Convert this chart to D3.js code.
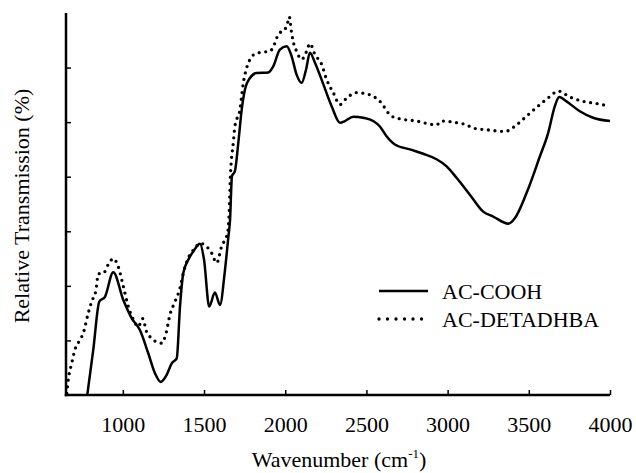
<!DOCTYPE html>
<html>
<head>
<meta charset="utf-8">
<script src="https://cdn.jsdelivr.net/npm/d3@7"></script>
<style>
  html, body { margin: 0; padding: 0; background: #fff; }
  svg { display: block; }
  text { font-family: "Liberation Serif", "Times New Roman", serif; fill: #000; }
</style>
</head>
<body>
<svg id="chart" width="636" height="473"></svg>
<script>
// FTIR spectra: relative transmission vs wavenumber
const xTicks = [1000, 1500, 2000, 2500, 3000, 3500, 4000];
const yTicks = [10, 20, 30, 40, 50, 60];

const seriesNames = ["AC-COOH", "AC-DETADHBA"];

const coohWavenumber = [781, 818, 855, 890, 941, 1003, 1054, 1105, 1157, 1198, 1233, 1270, 1301, 1332,
  1352, 1372, 1403, 1434, 1475, 1500, 1532, 1567, 1598, 1629, 1650, 1660, 1672, 1690, 1711, 1732,
  1752, 1783, 1824, 1896, 1926, 1967, 2009, 2039, 2070, 2101, 2128, 2152, 2183, 2224, 2286, 2337,
  2368, 2419, 2480, 2542, 2583, 2624, 2675, 2768, 2850, 2932, 2994, 3055, 3137, 3219, 3281, 3373,
  3414, 3486, 3568, 3619, 3660, 3687, 3732, 3814, 3896, 4000];
const coohTransmission = [0, 8.3, 17.1, 18.0, 22.5, 17.4, 14.1, 11.9, 7.6, 4.0, 2.4, 3.7, 5.8, 6.7,
  16.2, 22.3, 24.8, 26.3, 27.7, 24.8, 16.2, 18.8, 16.5, 22.9, 29.0, 32.0, 40.1, 41.0, 46.2, 52.3,
  56.0, 58.1, 59.0, 59.1, 60.2, 63.3, 63.9, 62.1, 58.7, 57.2, 59.6, 62.7, 60.9, 57.8, 52.9, 49.9,
  50.2, 51.0, 50.8, 50.2, 49.2, 47.4, 45.9, 45.0, 44.2, 43.2, 41.9, 39.8, 36.7, 33.6, 32.7, 31.4,
  32.4, 37.0, 43.7, 48.0, 52.9, 54.6, 53.8, 52.0, 50.8, 50.2];

const detaWavenumber = [655, 664, 685, 705, 736, 756, 787, 808, 835, 849, 880, 910, 941, 972, 1003,
  1034, 1064, 1095, 1122, 1146, 1177, 1218, 1239, 1266, 1290, 1321, 1352, 1372, 1403, 1444, 1475,
  1516, 1547, 1578, 1608, 1645, 1655, 1662, 1680, 1690, 1721, 1742, 1762, 1783, 1814, 1855, 1906,
  1937, 1957, 1998, 2012, 2025, 2039, 2049, 2070, 2101, 2132, 2152, 2183, 2224, 2255, 2296, 2337,
  2378, 2440, 2522, 2583, 2655, 2727, 2809, 2881, 2932, 2963, 3055, 3117, 3157, 3240, 3353, 3425,
  3486, 3568, 3630, 3681, 3753, 3835, 3917, 4000];
const detaTransmission = [0.3, 2.8, 5.8, 8.3, 10.1, 11.3, 15.0, 17.1, 19.3, 22.2, 22.3, 23.9, 25.0, 23.5, 19.9,
  16.2, 13.9, 12.5, 14.0, 11.6, 10.4, 9.6, 9.5, 11.3, 14.7, 17.1, 19.6, 22.3, 25.1, 26.9, 27.8,
  27.2, 26.0, 24.2, 27.2, 29.7, 33.5, 39.8, 46.2, 49.2, 52.3, 57.2, 59.9, 61.5, 62.5, 62.8, 63.0,
  64.5, 66.1, 67.0, 67.9, 69.3, 66.4, 64.8, 63.0, 61.5, 63.0, 64.4, 62.4, 60.6, 57.8, 55.4, 53.2,
  54.4, 55.4, 55.0, 53.8, 51.1, 50.5, 50.2, 49.7, 49.5, 50.2, 49.9, 49.5, 48.9, 48.6, 48.3, 49.5,
  51.1, 53.2, 54.7, 55.7, 54.6, 53.8, 53.4, 52.9];

const svg = d3.select("#chart");
const plotLeft = 66, plotRight = 610, plotTop = 13, plotBottom = 395;
const serif = "Liberation Serif, Times New Roman, serif";

const x = d3.scaleLinear().domain([650, 4000]).range([plotLeft, plotRight]);
const y = d3.scaleLinear().domain([0, 70]).range([plotBottom, plotTop]);

svg.append("defs").append("clipPath").attr("id", "plot")
  .append("rect").attr("x", plotLeft).attr("y", plotTop - 5)
  .attr("width", plotRight - plotLeft + 2).attr("height", plotBottom - plotTop + 5);

const line = d3.line().x(d => x(d[0])).y(d => y(d[1])).curve(d3.curveMonotoneX);

const cooh = coohWavenumber.map((w, i) => [w, coohTransmission[i]]);
const deta = detaWavenumber.map((w, i) => [w, detaTransmission[i]]);

const g = svg.append("g").attr("clip-path", "url(#plot)");
g.append("path").datum(deta).attr("d", line)
  .attr("fill", "none").attr("stroke", "#000").attr("stroke-width", 3.3)
  .attr("stroke-linecap", "round").attr("stroke-dasharray", "0 6.6");
g.append("path").datum(cooh).attr("d", line)
  .attr("fill", "none").attr("stroke", "#000").attr("stroke-width", 2.5)
  .attr("stroke-linejoin", "round");

// x axis: ticks point inward (up), labels below
const xAxis = svg.append("g").attr("transform", `translate(0,${plotBottom})`)
  .call(d3.axisBottom(x).tickValues(xTicks).tickSizeInner(-5).tickSizeOuter(0).tickPadding(21).tickFormat(d3.format("d")));
xAxis.attr("font-family", serif);
xAxis.select(".domain").remove();
xAxis.selectAll(".tick line").attr("stroke", "#000").attr("stroke-width", 1.5);
xAxis.selectAll(".tick text").attr("font-size", 22).attr("font-family", serif);

// y axis: inward ticks, no labels
const yAxis = svg.append("g").attr("transform", `translate(${plotLeft},0)`)
  .call(d3.axisLeft(y).tickValues(yTicks).tickSizeInner(-5).tickSizeOuter(0).tickFormat(""));
yAxis.select(".domain").remove();
yAxis.selectAll(".tick line").attr("stroke", "#000").attr("stroke-width", 1.5);

// axis lines
svg.append("line").attr("x1", plotLeft).attr("x2", plotLeft).attr("y1", plotTop).attr("y2", plotBottom + 1.25)
  .attr("stroke", "#000").attr("stroke-width", 2.5);
svg.append("line").attr("x1", plotLeft - 1.25).attr("x2", plotRight).attr("y1", plotBottom).attr("y2", plotBottom)
  .attr("stroke", "#000").attr("stroke-width", 2.5);

// axis titles
const xt = svg.append("text").attr("x", (plotLeft + plotRight) / 2 + 1).attr("y", 467)
  .attr("text-anchor", "middle").attr("font-size", 22).attr("font-family", serif);
xt.append("tspan").text("Wavenumber (cm");
xt.append("tspan").attr("font-size", 13).attr("dy", -9).text("-1");
xt.append("tspan").attr("dy", 9).text(")");

svg.append("text").attr("transform", `translate(29,${(plotTop + plotBottom) / 2 + 2}) rotate(-90)`)
  .attr("text-anchor", "middle").attr("font-size", 22).attr("font-family", serif)
  .text("Relative Transmission (%)");

// legend
const legend = svg.append("g");
const rows = [{ name: seriesNames[0], dash: null, w: 2.5 }, { name: seriesNames[1], dash: "0 8.5", w: 3.3 }];
rows.forEach((r, i) => {
  const yy = 291 + i * 28;
  const l = legend.append("line").attr("x1", 379).attr("x2", 428).attr("y1", yy).attr("y2", yy)
    .attr("stroke", "#000").attr("stroke-width", r.w);
  if (r.dash) l.attr("stroke-dasharray", r.dash).attr("stroke-linecap", "round");
  legend.append("text").attr("x", 442).attr("y", yy + 8).attr("font-size", 22)
    .attr("font-family", serif).text(r.name);
});
</script>
</body>
</html>
